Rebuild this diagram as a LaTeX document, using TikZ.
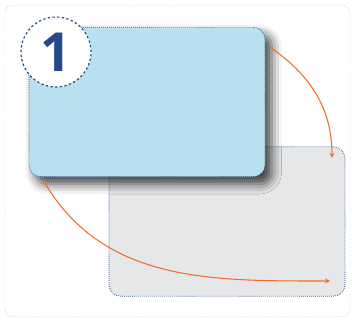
\documentclass[tikz,border=0pt]{standalone}
\usepackage{fontspec}
\setsansfont{Open Sans}
\usepackage{xcolor}
\usetikzlibrary{shapes,arrows,positioning,calc,shadows,shadows.blur}

\definecolor{cardblue}{HTML}{B8E0EE}
\definecolor{cardgrey}{HTML}{E6E7E8}
\definecolor{edgeblue}{HTML}{3D5A96}
\definecolor{numblue}{HTML}{264A87}
\definecolor{arroworange}{HTML}{F26B2B}
\definecolor{framegrey}{HTML}{A4B0CC}

\begin{document}
\begin{tikzpicture}[
    x=0.03cm, y=-0.03cm,
    card/.style={rectangle, draw=edgeblue, densely dotted, line width=0.7pt, rounded corners=0.35cm, minimum width=7.08cm, minimum height=4.48cm},
    badge/.style={circle, draw=numblue, dash pattern=on 2pt off 2pt, line width=1pt, fill=white, minimum size=2.1cm, inner sep=0pt},
    arrow/.style={->, >=stealth, line width=0.9pt, color=arroworange}
]

\useasboundingbox (0,0) rectangle (352,320);

% Frame
\node[rectangle, draw=framegrey, densely dotted, rounded corners=0.25cm, minimum width=10.35cm, minimum height=9.35cm] (frame) at (177.5,161) {};

% Back card
\node[card, fill=cardgrey] (back) at (227,221.5) {};

% Front card
\node[card, fill=cardblue, blur shadow={shadow xshift=0.2cm, shadow yshift=-0.22cm, shadow blur radius=0.3cm, shadow opacity=75}] (front) at (147,102) {};

% Number
\node[badge] (badge) at (56,52) {};
\node[font=\fontsize{46}{46}\selectfont\sffamily\bfseries, text=numblue] (num) at (badge) {1};

% Arrows
\coordinate (s1) at (270,47);
\coordinate (e1) at (332,158);
\coordinate (s2) at (43,180);
\coordinate (e2) at (330,281);
\draw[arrow] (s1) to[out=-35, in=90] (e1);
\draw[arrow] (s2) to[out=-60, in=180] (e2);

\end{tikzpicture}
\end{document}
